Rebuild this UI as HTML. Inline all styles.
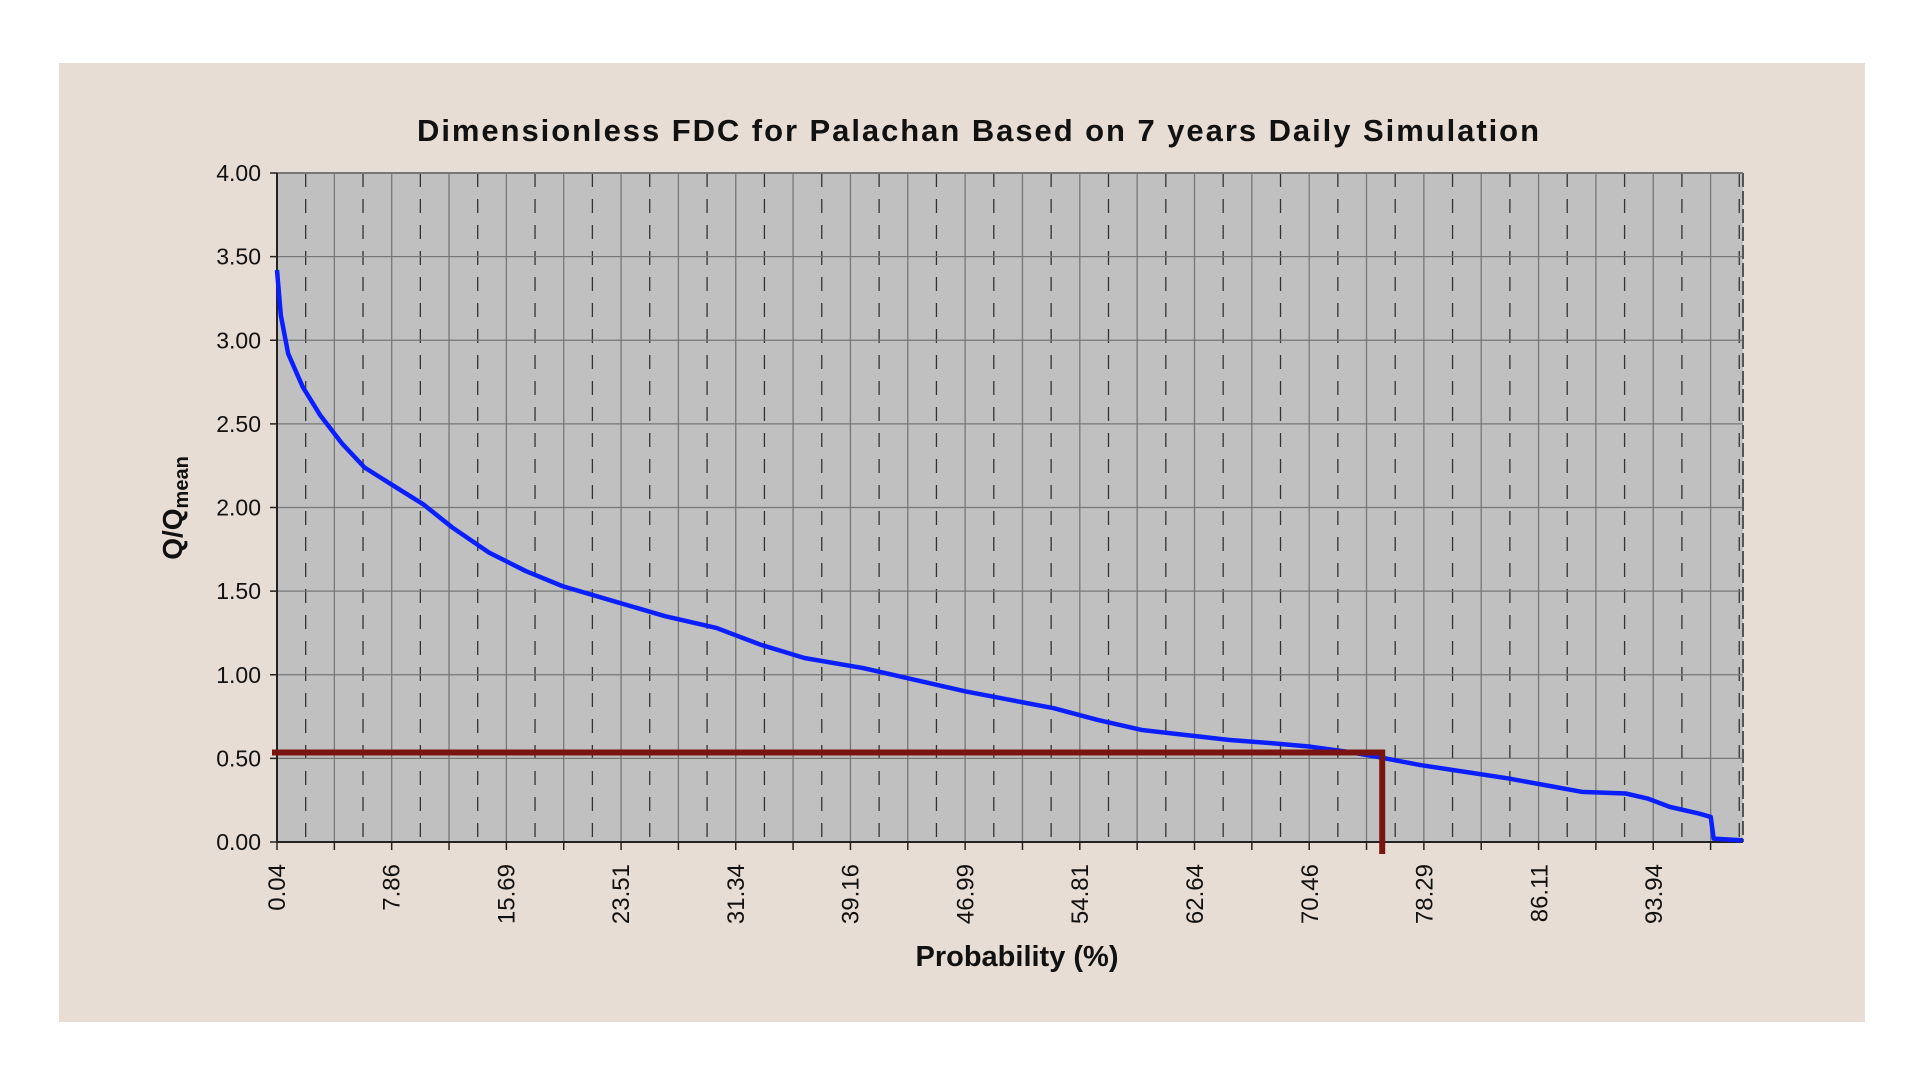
<!DOCTYPE html>
<html><head><meta charset="utf-8"><style>
html,body{margin:0;padding:0;background:#fff;}
svg{display:block;font-family:"Liberation Sans",sans-serif;}
</style></head><body>
<svg id="chart" width="1920" height="1080">
<rect x="59" y="63" width="1806" height="959" fill="#e8ddd4"/>
<text x="978" y="141" text-anchor="middle" font-size="31" font-weight="bold" fill="#111" textLength="1122">Dimensionless FDC for Palachan Based on 7 years Daily Simulation</text>
<g id="plot"></g>
<text x="1017" y="966" text-anchor="middle" font-size="29" font-weight="bold" fill="#111">Probability (%)</text>
<text transform="translate(182,508) rotate(-90)" text-anchor="middle" font-size="28" font-weight="bold" fill="#111">Q/Q<tspan font-size="20" dy="6">mean</tspan></text>
</svg>
<script>
const xTickLabels = ["0.04","7.86","15.69","23.51","31.34","39.16","46.99","54.81","62.64","70.46","78.29","86.11","93.94"];
const yTickValues = [0,0.5,1,1.5,2,2.5,3,3.5,4];
const probValues = [0.04,0.3,0.8,1.8,3,4.5,6,7.8,10,12,14.5,17,19.5,23,26.5,30,33,36,40,43,47,50,53,56,59,62,65,68,70.5,73,75,78,81,84,86.5,89,92,93.5,95,97,97.8,98,100];
const qValues = [3.42,3.15,2.92,2.72,2.55,2.38,2.24,2.14,2.02,1.88,1.73,1.62,1.53,1.44,1.35,1.28,1.18,1.10,1.04,0.98,0.90,0.85,0.80,0.73,0.67,0.64,0.61,0.59,0.57,0.54,0.51,0.46,0.42,0.38,0.34,0.30,0.29,0.26,0.21,0.17,0.15,0.02,0.01];
const refProb = [75.4];
const refQ = [0.535];

const L=277,R=1743,T=173,B=842,P0=0.04,P1=100,YMAX=4;
const xs=p=>L+(p-P0)/(P1-P0)*(R-L);
const ys=v=>B-v/YMAX*(B-T);
const NS="http://www.w3.org/2000/svg";
const g=document.getElementById('plot');
function mk(t,a){const e=document.createElementNS(NS,t);for(const k in a)e.setAttribute(k,a[k]);g.appendChild(e);return e;}
let e=mk('rect',{x:L,y:T,width:R-L,height:B-T,fill:'#c0c0c0'});


const step=(parseFloat(xTickLabels[1])-parseFloat(xTickLabels[0]))/2;
for(let i=0;;i++){const p=P0+i*step;if(p>P1+0.01)break;
 const x=xs(p);
 e=mk('line',{x1:x,y1:T,x2:x,y2:B,stroke:'#777','stroke-width':1.3});
 
 
 e=mk('line',{x1:x,y1:B,x2:x,y2:B+8,stroke:'#222','stroke-width':1.5});
 
 
 const xm=xs(p+step/2);
 if(p+step/2<=P1+0.01){
 e=mk('line',{x1:xm,y1:T,x2:xm,y2:B,stroke:'#333','stroke-width':1.3,'stroke-dasharray':'14,12'});
 
 }
}
yTickValues.forEach(v=>{const y=ys(v);
 e=mk('line',{x1:L,y1:y,x2:R,y2:y,stroke:'#777','stroke-width':1.3});
 
 
 e=mk('line',{x1:L-7,y1:y,x2:L,y2:y,stroke:'#222','stroke-width':1.5});
 
 
 e=mk('text',{x:L-16,y:y+8,'text-anchor':'end','font-size':23,fill:'#111'});
 e.textContent=v.toFixed(2);
 
 
});
xTickLabels.forEach(s=>{const x=xs(parseFloat(s));
 e=mk('text',{transform:`translate(${x+8},${B+22}) rotate(-90)`,'text-anchor':'end','font-size':24,fill:'#111'});
 e.textContent=s;
 
 
});
e=mk('line',{x1:R,y1:T,x2:R,y2:B,stroke:'#555','stroke-width':2,'stroke-dasharray':'14,4'});


e=mk('line',{x1:L,y1:T,x2:R,y2:T,stroke:'#777','stroke-width':2});


e=mk('line',{x1:L,y1:T,x2:L,y2:B,stroke:'#222','stroke-width':2});


e=mk('line',{x1:L,y1:B,x2:R,y2:B,stroke:'#222','stroke-width':2});


e=mk('polyline',{points:probValues.map((p,i)=>xs(p)+','+ys(qValues[i])).join(' '),fill:'none',stroke:'#0a1eff','stroke-width':4.5,'stroke-linejoin':'round'});


const rx=xs(refProb[0]),ry=ys(refQ[0]);
e=mk('polyline',{points:`${L-5},${ry} ${rx},${ry} ${rx},${B+12}`,fill:'none',stroke:'#7a1410','stroke-width':6});


</script>
</body></html>
